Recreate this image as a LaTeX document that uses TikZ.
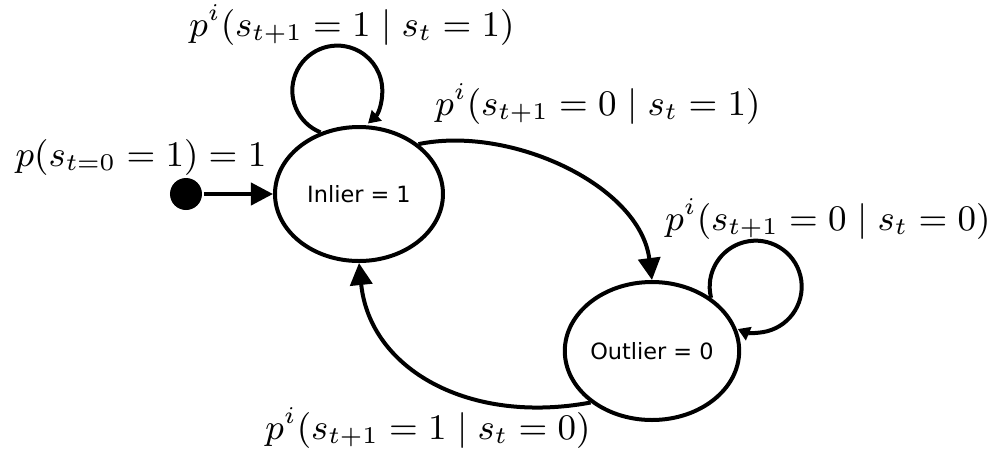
\documentclass[tikz,border=0pt]{standalone}
\usepackage{fontspec}
\newfontfamily\nodefont{DejaVu Sans}
\usetikzlibrary{arrows.meta,shapes.geometric}
\begin{document}
\begin{tikzpicture}[x=0.25pt,y=0.25pt,line width=1pt,
  state/.style={draw,ellipse,inner sep=0pt,font=\nodefont\fontsize{5.6}{7}\selectfont},
  conn/.style={-{Triangle[length=5.5pt,width=5.5pt]}},
  loopconn/.style={-{Triangle[length=3pt,width=3.5pt]}},
  lbl/.style={inner sep=0pt,font=\fontsize{8.8}{10}\selectfont}]
\useasboundingbox[fill=white] (0,0) rectangle (990,-452);
\node[state,minimum width=42pt,minimum height=33.5pt] (I) at (359,-194) {Inlier = 1};
\node[state,minimum width=41.5pt,minimum height=34.5pt] (O) at (652,-351) {Outlier = 0};
\node[circle,fill,inner sep=0pt,minimum size=8pt] (S) at (186,-194) {};
\draw[conn] (S) -- (I.west);
\draw[loopconn] (I.122) arc[start angle=248,end angle=-47,radius=11.25pt];
\draw[loopconn] (O.42) arc[start angle=194,end angle=-113,radius=11.5pt];
\draw[conn] (I.40) .. controls (510,-125) and (640,-185) .. (O.north);
\draw[conn] (O.220) .. controls (470,-425) and (370,-370) .. (I.south);
\node[lbl] (L1) at (352,-25) {$p^i(s_{t+1} = 1 \mid s_t = 1)$};
\node[lbl] (L0) at (141,-157) {$p(s_{t=0} = 1) = 1$};
\node[lbl] (L2) at (598,-104) {$p^i(s_{t+1} = 0 \mid s_t = 1)$};
\node[lbl] (L3) at (828,-219) {$p^i(s_{t+1} = 0 \mid s_t = 0)$};
\node[lbl] (L4) at (428,-428) {$p^i(s_{t+1} = 1 \mid s_t = 0)$};
\end{tikzpicture}
\end{document}
